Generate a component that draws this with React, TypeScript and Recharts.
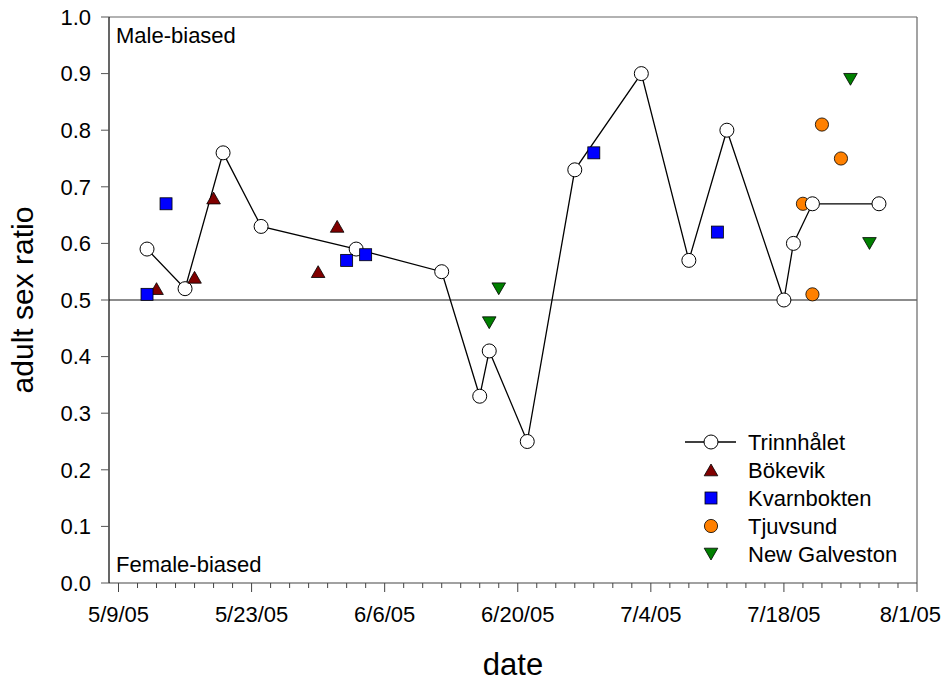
import React from 'react';
import { Legend, ReferenceLine, Scatter, ScatterChart, XAxis, YAxis } from 'recharts';

const FONT = '"Liberation Sans", Arial, Helvetica, sans-serif';

const TRINN_DATES = ['5/12/05', '5/16/05', '5/20/05', '5/24/05', '6/3/05', '6/12/05', '6/16/05', '6/17/05', '6/21/05', '6/26/05', '7/3/05', '7/8/05', '7/12/05', '7/18/05', '7/19/05', '7/21/05', '7/28/05'];
const TRINN_RATIOS = [0.59, 0.52, 0.76, 0.63, 0.59, 0.55, 0.33, 0.41, 0.25, 0.73, 0.9, 0.57, 0.8, 0.5, 0.6, 0.67, 0.67];

const BOKEVIK_DATES = ['5/13/05', '5/17/05', '5/19/05', '5/30/05', '6/1/05'];
const BOKEVIK_RATIOS = [0.52, 0.54, 0.68, 0.55, 0.63];

const KVARN_DATES = ['5/12/05', '5/14/05', '6/2/05', '6/4/05', '6/28/05', '7/11/05'];
const KVARN_RATIOS = [0.51, 0.67, 0.57, 0.58, 0.76, 0.62];

const TJUV_DATES = ['7/20/05', '7/21/05', '7/22/05', '7/24/05'];
const TJUV_RATIOS = [0.67, 0.51, 0.81, 0.75];

const GALV_DATES = ['6/17/05', '6/18/05', '7/25/05', '7/27/05'];
const GALV_RATIOS = [0.46, 0.52, 0.89, 0.6];

const MAJOR_TICKS = ['5/9/05', '5/23/05', '6/6/05', '6/20/05', '7/4/05', '7/18/05', '8/1/05'];
const Y_TICKS = [0, 0.1, 0.2, 0.3, 0.4, 0.5, 0.6, 0.7, 0.8, 0.9, 1.0];

const DAY_MS = 86400000;

function toUtc(s: string) {
  const [m, d, y] = s.split('/').map(Number);
  return Date.UTC(2000 + y, m - 1, d);
}

const BASE = toUtc(MAJOR_TICKS[0]);
const dayOf = (s: string) => Math.round((toUtc(s) - BASE) / DAY_MS);

function labelOf(day: number) {
  const dt = new Date(BASE + day * DAY_MS);
  return `${dt.getUTCMonth() + 1}/${dt.getUTCDate()}/${String(dt.getUTCFullYear()).slice(2)}`;
}

const rows = (dates: string[], ratios: number[]) =>
  dates.map((d, i) => ({ day: dayOf(d), ratio: ratios[i] }));

const LAST_DAY = dayOf(MAJOR_TICKS[MAJOR_TICKS.length - 1]);
const MAJOR_DAYS = MAJOR_TICKS.map(dayOf);

// minor ticks every 2 days between the major ones
const X_TICKS: number[] = [];
for (let d = 0; d <= LAST_DAY; d += 2) X_TICKS.push(d);

type P = { cx?: number; cy?: number };

const openCircle = ({ cx = 0, cy = 0 }: P) => (
  <circle cx={cx} cy={cy} r={7} fill="#fff" stroke="#000" strokeWidth={1} />
);
const dot = (fill: string) => ({ cx = 0, cy = 0 }: P) => (
  <circle cx={cx} cy={cy} r={6.6} fill={fill} stroke="#000" strokeWidth={0.8} />
);
const square = (fill: string) => ({ cx = 0, cy = 0 }: P) => (
  <rect x={cx - 6} y={cy - 6} width={12} height={12} fill={fill} stroke="#000" strokeWidth={0.8} />
);
const triUp = (fill: string) => ({ cx = 0, cy = 0 }: P) => (
  <polygon
    points={`${cx},${cy - 6} ${cx + 6.8},${cy + 5.8} ${cx - 6.8},${cy + 5.8}`}
    fill={fill}
    stroke="#000"
    strokeWidth={0.8}
  />
);
const triDown = (fill: string) => ({ cx = 0, cy = 0 }: P) => (
  <polygon
    points={`${cx - 6.8},${cy - 5.8} ${cx + 6.8},${cy - 5.8} ${cx},${cy + 6}`}
    fill={fill}
    stroke="#000"
    strokeWidth={0.8}
  />
);

const SERIES = [
  { name: 'Trinnhålet', data: rows(TRINN_DATES, TRINN_RATIOS), shape: openCircle, line: true },
  { name: 'Bökevik', data: rows(BOKEVIK_DATES, BOKEVIK_RATIOS), shape: triUp('#800000'), line: false },
  { name: 'Kvarnbokten', data: rows(KVARN_DATES, KVARN_RATIOS), shape: square('#0000ff'), line: false },
  { name: 'Tjuvsund', data: rows(TJUV_DATES, TJUV_RATIOS), shape: dot('#ff8000'), line: false },
  { name: 'New Galveston', data: rows(GALV_DATES, GALV_RATIOS), shape: triDown('#008000'), line: false },
];

// draw order on the plot (Tjuvsund sits under the open circles)
const DRAW_ORDER = ['Tjuvsund', 'Trinnhålet', 'Bökevik', 'Kvarnbokten', 'New Galveston'];

function DateTick(props: any) {
  const { x, y, payload } = props;
  const major = MAJOR_DAYS.includes(payload.value);
  const last = payload.value === LAST_DAY;
  return (
    <g>
      <line x1={x} x2={x} y1={y} y2={y + (major ? 9 : 5)} stroke="#444" strokeWidth={1} />
      {major && (
        <text
          x={last ? x + 24 : x}
          y={y + 39}
          textAnchor={last ? 'end' : 'middle'}
          fontSize={22}
          fontFamily={FONT}
          fill="#000"
        >
          {labelOf(payload.value)}
        </text>
      )}
    </g>
  );
}

const cornerText = (text: string, dx: number, dy: number) => (props: any) => {
  const vb = props.viewBox || {};
  return (
    <text x={vb.x + dx} y={vb.y + dy} fontSize={22} fontFamily={FONT} fill="#000">
      {text}
    </text>
  );
};

function LegendBox() {
  return (
    <svg width={240} height={150}>
      {SERIES.map((s, i) => {
        const cy = 17 + i * 28;
        return (
          <g key={s.name}>
            {s.line && <line x1={5} x2={56} y1={cy} y2={cy} stroke="#000" strokeWidth={1.3} />}
            {s.shape({ cx: 31, cy })}
            <text x={68} y={cy} dy="0.36em" fontSize={22} fontFamily={FONT} fill="#000">
              {s.name}
            </text>
          </g>
        );
      })}
    </svg>
  );
}

export default function App() {
  return (
    <div style={{ width: 944, height: 681, background: '#fff' }}>
      <style>{'body{margin:0}'}</style>
      <ScatterChart width={944} height={681} margin={{ top: 17, right: 27, bottom: 0, left: 0 }}>
        <XAxis
          type="number"
          dataKey="day"
          domain={[-1, LAST_DAY]}
          ticks={X_TICKS}
          interval={0}
          allowDataOverflow
          height={98}
          tickSize={0}
          tickMargin={0}
          tickLine={false}
          tick={(p: any) => <DateTick {...p} />}
          axisLine={{ stroke: '#444', strokeWidth: 1.2 }}
          label={(p: any) => {
            const vb = p.viewBox || {};
            return (
              <text x={vb.x + vb.width / 2} y={vb.y + 92} textAnchor="middle" fontSize={31} fontFamily={FONT} fill="#000">
                date
              </text>
            );
          }}
        />
        <YAxis
          type="number"
          dataKey="ratio"
          domain={[0, 1]}
          ticks={Y_TICKS}
          interval={0}
          width={109}
          tickSize={8}
          tickMargin={10}
          tickFormatter={(v: number) => v.toFixed(1)}
          tick={{ fontSize: 22, fill: '#000', fontFamily: FONT }}
          tickLine={{ stroke: '#555' }}
          axisLine={{ stroke: '#000', strokeWidth: 1.2 }}
          label={(p: any) => {
            const vb = p.viewBox || {};
            const cx = vb.x + 33;
            const cy = vb.y + vb.height / 2;
            return (
              <text
                transform={`translate(${cx},${cy}) rotate(-90)`}
                textAnchor="middle"
                fontSize={30}
                fontFamily={FONT}
                fill="#000"
              >
                adult sex ratio
              </text>
            );
          }}
        />
        <ReferenceLine y={1} stroke="#666" strokeWidth={1.2} label={cornerText('Male-biased', 7, 26)} />
        <ReferenceLine y={0} stroke="none" label={cornerText('Female-biased', 7, -11)} />
        <ReferenceLine x={LAST_DAY} stroke="#666" strokeWidth={1.2} />
        <ReferenceLine y={0.5} stroke="#666" strokeWidth={1.3} />
        {DRAW_ORDER.map((n) => SERIES.find((s) => s.name === n)!).map((s) => (
          <Scatter
            key={s.name}
            name={s.name}
            data={s.data}
            shape={s.shape as any}
            line={s.line ? { stroke: '#000', strokeWidth: 1.3 } : false}
            isAnimationActive={false}
          />
        ))}
        <Legend
          layout="vertical"
          align="center"
          verticalAlign="middle"
          wrapperStyle={{ left: 680, top: 425, width: 240, height: 150 }}
          content={() => <LegendBox />}
        />
      </ScatterChart>
    </div>
  );
}
